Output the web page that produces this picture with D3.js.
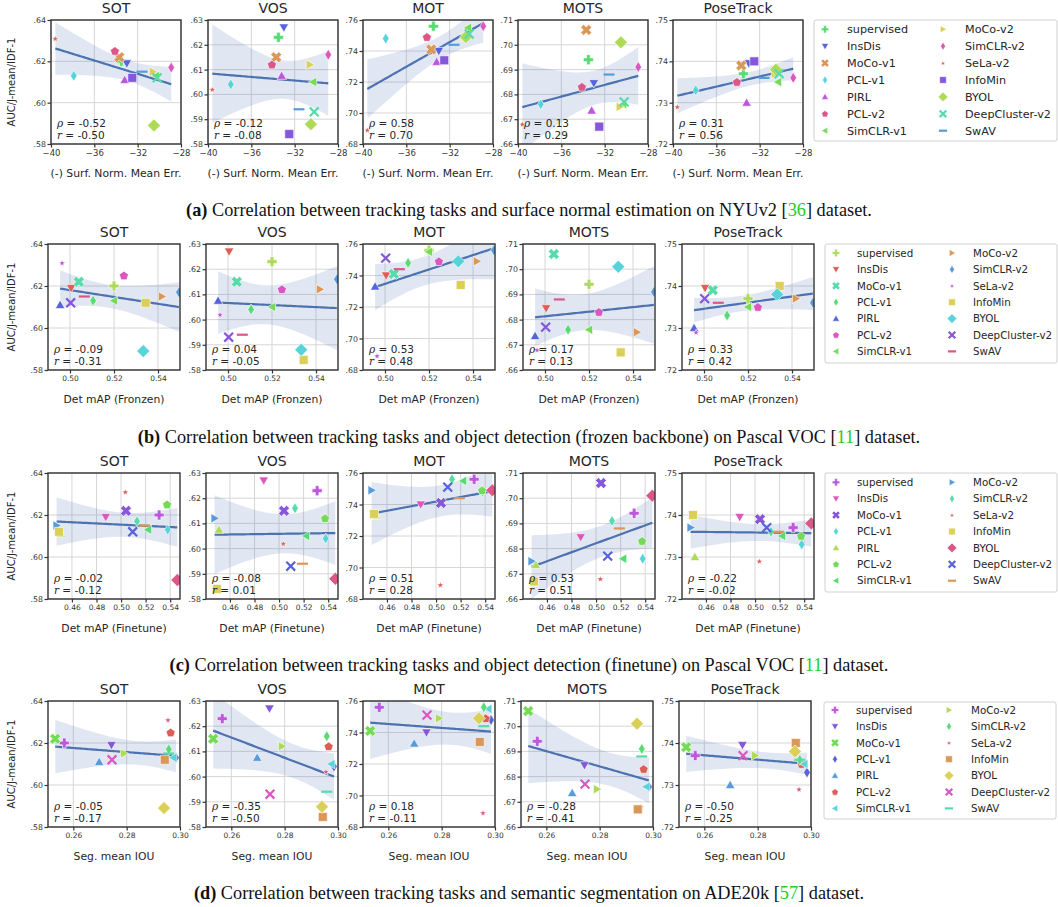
<!DOCTYPE html>
<html>
<head>
<meta charset="utf-8">
<script src="https://cdn.jsdelivr.net/npm/d3@7"></script>
<style>
  body { margin: 0; background: #fff; }
  svg { display: block; }
</style>
</head>
<body>
<div id="chart"></div>
<script>
// methods (order = legend order = draw order)
const methods = ["supervised", "InsDis", "MoCo-v1", "PCL-v1", "PIRL", "PCL-v2", "SimCLR-v1",
  "MoCo-v2", "SimCLR-v2", "SeLa-v2", "InfoMin", "BYOL", "DeepCluster-v2", "SwAV"];
const markerTypes = ["P", "v", "X", "d", "^", "p", "<", ">", "d", "*", "s", "D", "x", "_"];
const markerSizes = [10, 9.5, 9.5, 11, 9.5, 9.5, 9.5, 9.5, 11, 7, 10.5, 13, 11, 11];

// tracking performance per method
const tasks = ["SOT", "VOS", "MOT", "MOTS", "PoseTrack"];
const sotScore  = [.620, .619, .622, .613, .611, .625, .613, .615, .617, .631, .612, .589, .612, .615];
const vosScore  = [.623, .627, .615, .604, .6075, .612, .605, .612, .616, .602, .584, .588, .593, .594];
const motScore  = [.756, .740, .741, .748, .733, .749, .755, .749, .756, .689, .734, .749, .751, .744];
const motsScore = [.694, .6845, .706, .676, .6735, .683, .676, .675, .691, .668, .667, .701, .677, .688];
const poseScore = [.737, .7395, .739, .733, .730, .735, .735, .737, .736, .729, .740, .738, .737, .736];

// y axes per task
const yDomains = [[.58, .64], [.58, .63], [.68, .76], [.66, .71], [.72, .75]];
const yTickVals = [[.58, .60, .62, .64], [.58, .59, .60, .61, .62, .63], [.68, .70, .72, .74, .76],
  [.66, .67, .68, .69, .70, .71], [.72, .73, .74, .75]];

// downstream task results per method
const normalErr   = [-33.5, -33.0, -33.7, -37.9, -33.2, -34.1, -30.3, -30.6, -28.9, -39.6, -32.5, -30.5, -30.2, -31.6];
const detFrozen   = [.520, .5005, .504, .5105, .4955, .5245, .520, .5418, .5495, .4964, .5344, .5333, .5003, .5065];
const detFinetune = [.531, .4875, .504, .538, .451, .5375, .522, .4475, .513, .5035, .4495, .5458, .5095, .519];
const segIou      = [.2566, .2743, .2532, .2985, .2697, .2965, .2975, .279, .2958, .2955, .2943, .294, .2745, .2958];

// x axes
const xLabels = ["(-) Surf. Norm. Mean Err.", "Det mAP (Fronzen)", "Det mAP (Finetune)", "Seg. mean IOU"];
const xDomains = [[-40, -28], [.490, .550], [.4405, .548], [.2505, .300]];
const xTickVals = [[-40, -36, -32, -28], [.50, .52, .54], [.46, .48, .50, .52, .54], [.26, .28, .30]];

// printed correlations
const rhoVals = [["-0.52", "-0.12", "0.58", "0.13", "0.31"], ["-0.09", "0.04", "0.53", "0.17", "0.33"],
  ["-0.02", "-0.08", "0.51", "0.53", "-0.22"], ["-0.05", "-0.35", "0.18", "-0.28", "-0.50"]];
const rVals = [["-0.50", "-0.08", "0.70", "0.29", "0.56"], ["-0.31", "-0.05", "0.48", "0.13", "0.42"],
  ["-0.12", "0.01", "0.28", "0.51", "-0.02"], ["-0.17", "-0.50", "-0.11", "-0.41", "-0.25"]];

// hue slot (of a 14 colour hls palette) used by each method in each row
const hueA = [5, 9, 1, 7, 11, 13, 4, 2, 12, 0, 10, 3, 6, 8];
const hueB = [3, 0, 6, 5, 9, 12, 4, 1, 8, 11, 2, 7, 10, 13];
const hueC = [11, 12, 10, 7, 3, 4, 5, 8, 6, 0, 2, 13, 9, 1];
const hueD = [11, 10, 4, 9, 8, 0, 7, 3, 5, 13, 1, 2, 12, 6];

const captions = [
  ["(a)", " Correlation between tracking tasks and surface normal estimation on NYUv2 [", "36", "] dataset."],
  ["(b)", " Correlation between tracking tasks and object detection (frozen backbone) on Pascal VOC [", "11", "] dataset."],
  ["(c)", " Correlation between tracking tasks and object detection (finetune) on Pascal VOC [", "11", "] dataset."],
  ["(d)", " Correlation between tracking tasks and semantic segmentation on ADE20k [", "57", "] dataset."]
];

const palette = d3.range(14).map(i => d3.hsl((i / 14 + 0.01) * 360, 0.65, 0.6).formatHex());
const scores = [sotScore, vosScore, motScore, motsScore, poseScore];
const xData = [normalErr, detFrozen, detFinetune, segIou];
const hues = [hueA, hueB, hueC, hueD];

// layout (pixels)
const rows = [
  { top: 20, h: 124, w: 130, lefts: [51, 208, 363, 518, 673], tick: 8.5, cap: 216,
    legend: { x: 814, y: 20, h: 121, r: 1057, first: 9.3, step: 16.9, font: 11.2, m1: 825, t1: 847, m2: 943, t2: 965 } },
  { top: 244, h: 126, w: 132, lefts: [48, 206, 363, 523, 682], tick: 7.5, cap: 443,
    legend: { x: 825, y: 244, h: 119, r: 1057, first: 9, step: 16.4, font: 10.3, m1: 836, t1: 857, m2: 952, t2: 973 } },
  { top: 473, h: 126, w: 132, lefts: [48, 206, 363, 523, 682], tick: 7.5, cap: 671,
    legend: { x: 825, y: 473, h: 119, r: 1057, first: 9.3, step: 16.4, font: 10.3, m1: 836, t1: 857, m2: 952, t2: 973 } },
  { top: 701, h: 126, w: 132, lefts: [48, 206, 363, 521, 679], tick: 7.5, cap: 899,
    legend: { x: 824, y: 702, h: 117, r: 1056, first: 8, step: 16.4, font: 10.3, m1: 835, t1: 856, m2: 949, t2: 971 } }
];

const svg = d3.select("#chart").append("svg")
  .attr("width", 1058).attr("height", 907)
  .style("font-family", "'DejaVu Sans', sans-serif");

function markerPath(type, s) {
  const h = s / 2;
  const poly = pts => "M" + pts.map(p => p[0].toFixed(2) + "," + p[1].toFixed(2)).join("L") + "Z";
  const rot = (pts, a) => pts.map(([x, y]) => [x * Math.cos(a) - y * Math.sin(a), x * Math.sin(a) + y * Math.cos(a)]);
  const a = h * 0.36;
  const plus = [[-a, -h], [a, -h], [a, -a], [h, -a], [h, a], [a, a], [a, h], [-a, h], [-a, a], [-h, a], [-h, -a], [-a, -a]];
  switch (type) {
    case "^": return poly([[0, -h], [h, h * 0.75], [-h, h * 0.75]]);
    case "v": return poly([[0, h], [h, -h * 0.75], [-h, -h * 0.75]]);
    case "<": return poly([[-h, 0], [h * 0.75, -h], [h * 0.75, h]]);
    case ">": return poly([[h, 0], [-h * 0.75, -h], [-h * 0.75, h]]);
    case "P": return poly(plus);
    case "X": return poly(rot(plus.map(([x, y]) => [x * 1.2, y * 1.2]), Math.PI / 4));
    case "p": return poly(d3.range(5).map(k => {
      const t = -Math.PI / 2 + k * 2 * Math.PI / 5;
      return [h * Math.cos(t), h * Math.sin(t) + h * 0.08];
    }));
    case "*": return poly(d3.range(10).map(k => {
      const t = -Math.PI / 2 + k * Math.PI / 5, r = k % 2 ? h * 0.42 : h;
      return [r * Math.cos(t), r * Math.sin(t) + h * 0.1];
    }));
    case "d": return poly([[0, -h], [h * 0.6, 0], [0, h], [-h * 0.6, 0]]);
    case "D": return poly([[0, -h], [h, 0], [0, h], [-h, 0]]);
    case "s": return poly([[-h * 0.85, -h * 0.85], [h * 0.85, -h * 0.85], [h * 0.85, h * 0.85], [-h * 0.85, h * 0.85]]);
    case "x": return `M${-h * 0.8},${-h * 0.8}L${h * 0.8},${h * 0.8}M${-h * 0.8},${h * 0.8}L${h * 0.8},${-h * 0.8}`;
    case "_": return `M${-h},0L${h},0`;
  }
}
const isLine = t => t === "x" || t === "_";

function drawMarker(g, type, size, color, x, y) {
  const p = g.append("path").attr("d", markerPath(type, size))
    .attr("transform", `translate(${x},${y})`);
  if (isLine(type)) p.attr("fill", "none").attr("stroke", color).attr("stroke-width", 2.2);
  else p.attr("fill", color).attr("stroke", "#fff").attr("stroke-width", 0.6);
}

// ordinary least squares fit with 95% confidence band
function regression(xs, ys) {
  const n = xs.length, mx = d3.mean(xs), my = d3.mean(ys);
  const sxx = d3.sum(xs, x => (x - mx) ** 2);
  const sxy = d3.sum(xs.map((x, i) => (x - mx) * (ys[i] - my)));
  const b = sxy / sxx, a0 = my - b * mx;
  const s = Math.sqrt(d3.sum(xs.map((x, i) => (ys[i] - a0 - b * x) ** 2)) / (n - 2));
  const t = 2.179;
  const [lo, hi] = d3.extent(xs);
  return d3.range(0, 61).map(k => {
    const x = lo + (hi - lo) * k / 60;
    const yhat = a0 + b * x;
    const se = s * Math.sqrt(1 / n + (x - mx) ** 2 / sxx);
    return { x, y: yhat, y0: yhat - t * se, y1: yhat + t * se };
  });
}

rows.forEach((row, ri) => {
  const xs = xData[ri];
  tasks.forEach((task, ti) => {
    const ys = scores[ti];
    const left = row.lefts[ti];
    const x = d3.scaleLinear().domain(xDomains[ri]).range([left, left + row.w]);
    const y = d3.scaleLinear().domain(yDomains[ti]).range([row.top + row.h, row.top]);
    const g = svg.append("g");
    const clipId = `clip-${ri}-${ti}`;
    svg.append("clipPath").attr("id", clipId).append("rect")
      .attr("x", left).attr("y", row.top).attr("width", row.w).attr("height", row.h);

    // grid
    g.selectAll(".gx").data(xTickVals[ri]).join("line")
      .attr("x1", d => x(d)).attr("x2", d => x(d)).attr("y1", row.top).attr("y2", row.top + row.h)
      .attr("stroke", "#d6d6d6").attr("stroke-width", 1);
    g.selectAll(".gy").data(yTickVals[ti]).join("line")
      .attr("y1", d => y(d)).attr("y2", d => y(d)).attr("x1", left).attr("x2", left + row.w)
      .attr("stroke", "#d6d6d6").attr("stroke-width", 1);

    // regression band & line
    const fit = regression(xs, ys);
    const plot = g.append("g").attr("clip-path", `url(#${clipId})`);
    plot.append("path").datum(fit)
      .attr("d", d3.area().x(d => x(d.x)).y0(d => y(d.y0)).y1(d => y(d.y1)))
      .attr("fill", "#4c72b0").attr("fill-opacity", 0.17);
    plot.append("path").datum(fit)
      .attr("d", d3.line().x(d => x(d.x)).y(d => y(d.y)))
      .attr("fill", "none").attr("stroke", "#4c72b0").attr("stroke-width", 2.2);

    // points
    methods.forEach((m, mi) => {
      drawMarker(plot, markerTypes[mi], markerSizes[mi], palette[hues[ri][mi]], x(xs[mi]), y(ys[mi]));
    });

    // spines and axes
    g.append("rect").attr("x", left).attr("y", row.top).attr("width", row.w).attr("height", row.h)
      .attr("fill", "none").attr("stroke", "#333").attr("stroke-width", 1.4);
    const xFmt = ri === 0 ? d3.format("d") : d3.format(".2f");
    const xAxis = g.append("g").attr("transform", `translate(0,${row.top + row.h})`)
      .call(d3.axisBottom(x).tickValues(xTickVals[ri]).tickFormat(xFmt).tickSize(3.5).tickPadding(2));
    xAxis.select(".domain").remove();
    xAxis.selectAll("line").attr("stroke", "#333").attr("stroke-width", 1.2);
    xAxis.selectAll("text").attr("fill", "#333").style("font-size", row.tick + "px")
      .style("font-family", "'DejaVu Sans', sans-serif");
    const yAxis = g.append("g").attr("transform", `translate(${left},0)`)
      .call(d3.axisLeft(y).tickValues(yTickVals[ti]).tickFormat(d => d3.format(".2f")(d).replace(/^0/, ""))
        .tickSize(3.5).tickPadding(1.5));
    yAxis.select(".domain").remove();
    yAxis.selectAll("line").attr("stroke", "#333").attr("stroke-width", 1.2);
    yAxis.selectAll("text").attr("fill", "#333").style("font-size", "7.8px")
      .style("font-family", "'DejaVu Sans', sans-serif");

    // title, x label
    g.append("text").attr("x", left + row.w / 2).attr("y", row.top - 7)
      .attr("text-anchor", "middle").attr("fill", "#262626").style("font-size", "14px").text(task);
    g.append("text").attr("x", left + row.w / 2).attr("y", row.top + row.h + 33)
      .attr("text-anchor", "middle").attr("fill", "#262626").style("font-size", "10.8px").text(xLabels[ri]);

    // correlation text
    const st = g.append("g").style("font-size", "10.5px").attr("fill", "#262626");
    const l1 = st.append("text").attr("x", left + 6).attr("y", row.top + row.h - 17);
    l1.append("tspan").style("font-family", "'DejaVu Serif', serif").style("font-style", "italic").text("ρ");
    l1.append("tspan").text(" = " + rhoVals[ri][ti]);
    const l2 = st.append("text").attr("x", left + 6).attr("y", row.top + row.h - 5);
    l2.append("tspan").style("font-family", "'DejaVu Serif', serif").style("font-style", "italic").text("r");
    l2.append("tspan").text(" = " + rVals[ri][ti]);

    if (ti === 0) {
      g.append("text").attr("transform", `translate(15,${row.top + row.h / 2}) rotate(-90)`)
        .attr("text-anchor", "middle").attr("fill", "#262626").style("font-size", "10px")
        .text("AUC/J-mean/IDF-1");
    }
  });

  // legend
  const lg = svg.append("g");
  const L = row.legend;
  lg.append("rect").attr("x", L.x).attr("y", L.y).attr("width", L.r - L.x).attr("height", L.h)
    .attr("rx", 2).attr("fill", "#fff").attr("stroke", "#d0d0d0").attr("stroke-width", 1);
  methods.forEach((m, mi) => {
    const col = mi < 7 ? 0 : 1, r = mi % 7;
    const cx = col ? L.m2 : L.m1, cy = L.y + L.first + r * L.step;
    drawMarker(lg, markerTypes[mi], markerSizes[mi] * 0.75, palette[hues[ri][mi]], cx, cy);
    lg.append("text").attr("x", col ? L.t2 : L.t1).attr("y", cy + L.font * 0.36).attr("fill", "#262626")
      .style("font-size", L.font + "px").text(m);
  });

  // caption
  const c = captions[ri];
  const ct = svg.append("text").attr("x", 529).attr("y", row.cap).attr("text-anchor", "middle")
    .style("font-family", "'Liberation Serif', 'Times New Roman', serif").style("font-size", "18.3px")
    .attr("fill", "#111");
  ct.append("tspan").style("font-weight", "bold").text(c[0]);
  ct.append("tspan").text(c[1]);
  ct.append("tspan").attr("fill", "#22cc22").text(c[2]);
  ct.append("tspan").text(c[3]);
});
</script>
</body>
</html>
